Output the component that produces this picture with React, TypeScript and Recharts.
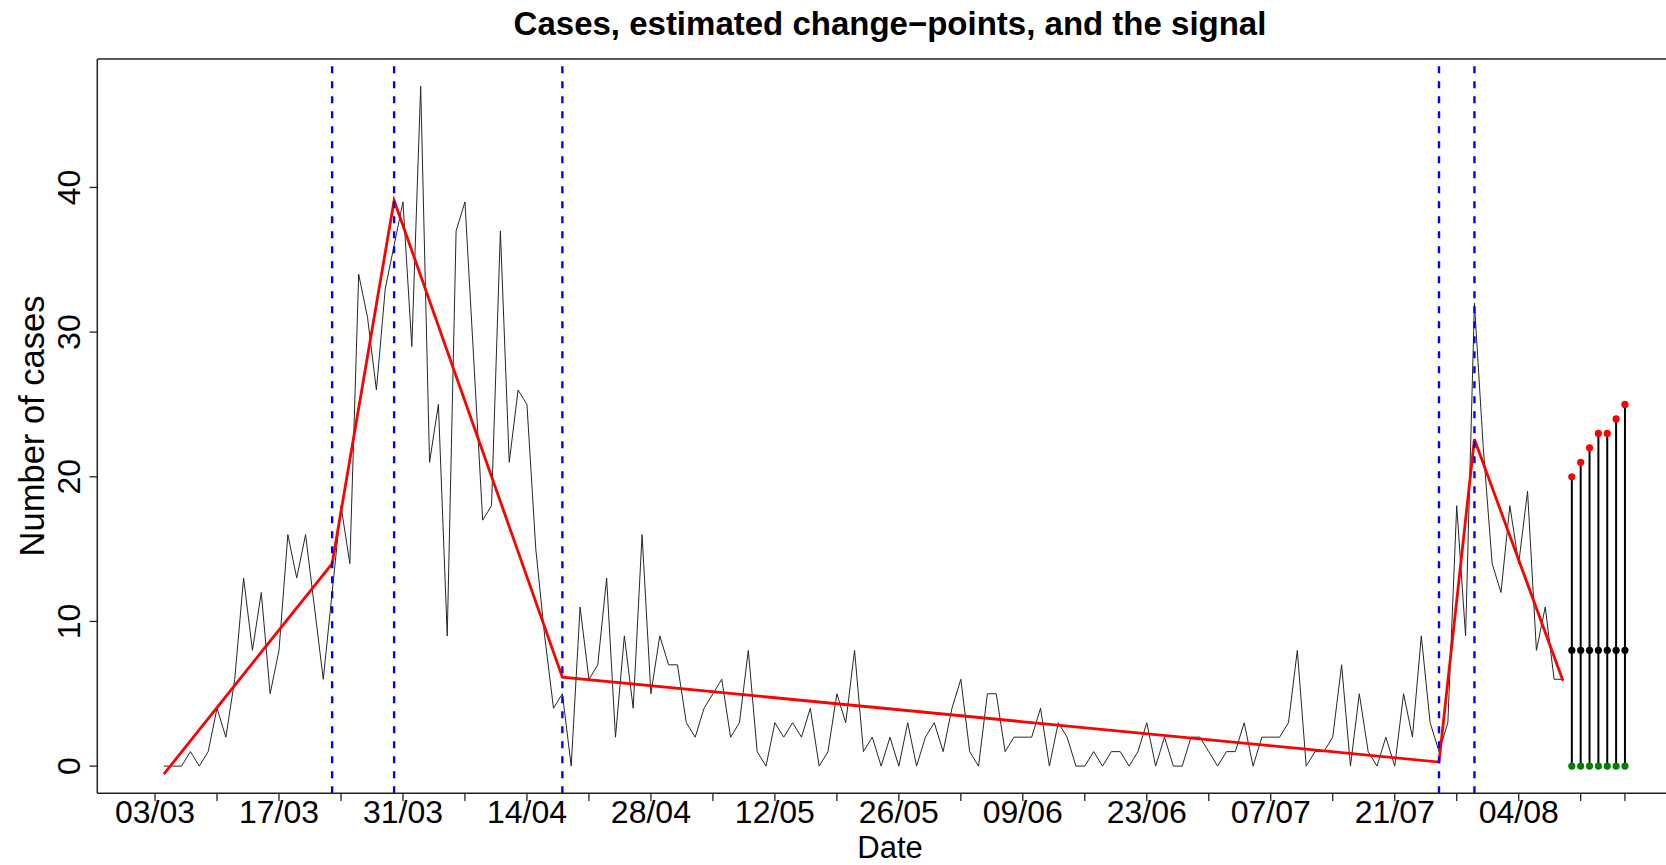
import React from "react";
import { ComposedChart, Line, XAxis, YAxis, ReferenceLine } from "recharts";

// daily cases, day 1 = 04/03 (day 0 = 03/03)
const firstDay = 1;
const cases = [
  0, 0, 0, 1, 0, 1, 4, 2, 6, 13, 8, 12, 5, 8, 16, 13, 16, 11, 6, 12,
  18, 14, 34, 31, 26, 33, 36, 39, 29, 47, 21, 25, 9, 37, 39, 28, 17, 18, 37, 21,
  26, 25, 15, 9, 4, 5, 0, 11, 6, 7, 13, 2, 9, 4, 16, 5, 9, 7, 7, 3,
  2, 4, 5, 6, 2, 3, 8, 1, 0, 3, 2, 3, 2, 4, 0, 1, 5, 3, 8, 1,
  2, 0, 2, 0, 3, 0, 2, 3, 1, 4, 6, 1, 0, 5, 5, 1, 2, 2, 2, 4,
  0, 3, 2, 0, 0, 1, 0, 1, 1, 0, 1, 3, 0, 2, 0, 0, 2, 2, 1, 0,
  1, 1, 3, 0, 2, 2, 2, 3, 8, 0, 1, 1, 2, 7, 0, 5, 1, 0, 2, 0,
  5, 2, 9, 3, 1, 3, 18, 9, 32, 22, 14, 12, 18, 14, 19, 8, 11, 6, 6,
];

// estimated change-points and the piecewise linear fit
const changePoints = [20, 27, 46, 145, 149];
const fitDays = [1, 20, 27, 46, 145, 149, 159];
const fitValues = [-0.55, 14.0, 39.1, 6.15, 0.28, 22.6, 5.9];

// the signal for the next days
const signalDays = [160, 161, 162, 163, 164, 165, 166];
const signalUpper = [20, 21, 22, 23, 23, 24, 25];
const signalMid = [8, 8, 8, 8, 8, 8, 8];
const signalLower = [0, 0, 0, 0, 0, 0, 0];

const tickDays = [0, 7, 14, 21, 28, 35, 42, 49, 56, 63, 70, 77, 84, 91, 98, 105, 112, 119, 126, 133, 140, 147, 154, 161, 166];
const labelDays = [0, 14, 28, 42, 56, 70, 84, 98, 112, 126, 140, 154];
const dateLabels = ["03/03", "17/03", "31/03", "14/04", "28/04", "12/05", "26/05", "09/06", "23/06", "07/07", "21/07", "04/08"];
const yTicks = [0, 10, 20, 30, 40];

const xDomain = [-6.52, 172.6];
const yDomain = [-1.88, 48.88];

const FONT = "'Liberation Sans', Arial, Helvetica, sans-serif";
const AXIS = "#222";

const casesData = cases.map((v, i) => ({ day: firstDay + i, cases: v }));
const fitData = fitDays.map((d, i) => ({ day: d, fit: fitValues[i] }));
const stems = signalDays.map((d, i) => [
  { day: d, v: signalLower[i] },
  { day: d, v: signalUpper[i] },
]);
const upperPts = signalDays.map((d, i) => ({ day: d, v: signalUpper[i] }));
const midPts = signalDays.map((d, i) => ({ day: d, v: signalMid[i] }));
const lowerPts = signalDays.map((d, i) => ({ day: d, v: signalLower[i] }));

const XTick = (props: any) => {
  const { x, y, payload } = props;
  const idx = labelDays.indexOf(payload.value);
  if (idx < 0) return <g />;
  return (
    <text x={x} y={y + 21.5} textAnchor="middle" fontFamily={FONT} fontSize={32} fill="#000">
      {dateLabels[idx]}
    </text>
  );
};

const YTick = (props: any) => {
  const { x, y, payload } = props;
  const bx = x - 9.6;
  return (
    <text
      x={bx}
      y={y}
      transform={`rotate(-90, ${bx}, ${y})`}
      textAnchor="middle"
      fontFamily={FONT}
      fontSize={32}
      fill="#000"
    >
      {payload.value}
    </text>
  );
};

const dotStyle = (color: string) => ({ r: 3.6, fill: color, stroke: "none" });

export default function App() {
  return (
    <div
      style={{
        position: "absolute",
        left: 0,
        top: 0,
        width: 1666,
        height: 865,
        overflow: "hidden",
        background: "#fff",
      }}
    >
      <ComposedChart width={1700} height={865} margin={{ top: 59, right: 16.6, bottom: 0, left: 0 }}>
        <XAxis
          type="number"
          dataKey="day"
          domain={xDomain}
          allowDataOverflow
          ticks={tickDays}
          interval={0}
          height={71.7}
          tickSize={7.7}
          tickMargin={0}
          tick={<XTick />}
          tickLine={{ stroke: AXIS, strokeWidth: 1.3 }}
          axisLine={{ stroke: AXIS, strokeWidth: 1.5 }}
        />
        <YAxis
          type="number"
          domain={yDomain}
          allowDataOverflow
          ticks={yTicks}
          interval={0}
          width={97.3}
          tickSize={7.7}
          tickMargin={0}
          tick={<YTick />}
          tickLine={{ stroke: AXIS, strokeWidth: 1.3 }}
          axisLine={{ stroke: AXIS, strokeWidth: 1.5 }}
        />
        <ReferenceLine y={yDomain[1]} stroke={AXIS} strokeWidth={1.5} ifOverflow="visible" />
        <ReferenceLine x={xDomain[1]} stroke={AXIS} strokeWidth={1.5} ifOverflow="visible" />

        <Line
          data={casesData}
          dataKey="cases"
          type="linear"
          stroke="#262626"
          strokeWidth={1}
          dot={false}
          activeDot={false}
          isAnimationActive={false}
        />
        <Line
          data={fitData}
          dataKey="fit"
          type="linear"
          stroke="#ff0000"
          strokeWidth={2.8}
          dot={false}
          activeDot={false}
          isAnimationActive={false}
        />
        {changePoints.map((d) => (
          <ReferenceLine key={d} x={d} stroke="#0000ff" strokeWidth={2.4} strokeDasharray="7 8" />
        ))}

        {stems.map((s, i) => (
          <Line
            key={"stem" + i}
            data={s}
            dataKey="v"
            type="linear"
            stroke="#000"
            strokeWidth={2}
            dot={false}
            activeDot={false}
            isAnimationActive={false}
          />
        ))}
        <Line data={upperPts} dataKey="v" stroke="none" dot={dotStyle("#ff0000")} activeDot={false} isAnimationActive={false} />
        <Line data={midPts} dataKey="v" stroke="none" dot={dotStyle("#000000")} activeDot={false} isAnimationActive={false} />
        <Line data={lowerPts} dataKey="v" stroke="none" dot={dotStyle("#008000")} activeDot={false} isAnimationActive={false} />
      </ComposedChart>

      <svg
        width={1666}
        height={865}
        style={{ position: "absolute", left: 0, top: 0, pointerEvents: "none" }}
      >
        <text x={890} y={35} textAnchor="middle" fontFamily={FONT} fontSize={33} fontWeight="bold" fill="#000">
          Cases, estimated change−points, and the signal
        </text>
        <text x={890} y={858} textAnchor="middle" fontFamily={FONT} fontSize={31} fill="#000">
          Date
        </text>
        <text
          x={44}
          y={426}
          transform="rotate(-90, 44, 426)"
          textAnchor="middle"
          fontFamily={FONT}
          fontSize={34.5}
          fill="#000"
        >
          Number of cases
        </text>
      </svg>
    </div>
  );
}
